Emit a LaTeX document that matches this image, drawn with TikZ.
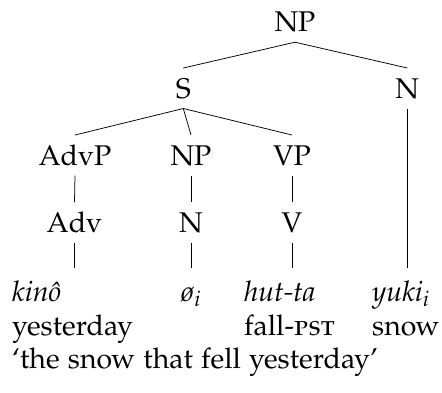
\documentclass[tikz,border=0pt]{standalone}
\usepackage[T1]{fontenc}
\usepackage[sc]{mathpazo}
\begin{document}
\begin{tikzpicture}[x=1pt,y=-1pt,
  every node/.append style={font=\fontsize{28.5pt}{34pt}\selectfont},
  cat/.style={anchor=base,inner sep=0pt,outer ysep=10.5pt,text height=19.5pt,text depth=0pt},
  gl/.style={anchor=base west,inner sep=0pt},
  edge/.style={line width=0.75pt}]
\useasboundingbox (0,0) rectangle (442,392);
% tree labels
\node[cat] (np0) at (295,31.7) {NP};
\node[cat] (s) at (183.3,98) {S};
\node[cat] (nr) at (407.3,98) {N};
\node[cat] (advp) at (75,165) {AdvP};
\node[cat] (np1) at (191,165) {NP};
\node[cat] (vp) at (292,165) {VP};
\node[cat] (adv) at (74.5,232) {Adv};
\node[cat] (n1) at (191,232) {N};
\node[cat] (v) at (292,232) {V};
% leaf ends
\coordinate (advl) at (74.5,268);
\coordinate (n1l) at (191,268);
\coordinate (vl) at (292,268);
\coordinate (nrl) at (407.3,268);
% edges
\draw[edge] (np0.south) -- (s.north);
\draw[edge] (np0.south) -- (nr.north);
\draw[edge] (s.south) -- (advp.north);
\draw[edge] (s.south) -- (np1.north);
\draw[edge] (s.south) -- (vp.north);
\draw[edge] (advp.south) -- (adv.north);
\draw[edge] (np1.south) -- (n1.north);
\draw[edge] (vp.south) -- (v.north);
\draw[edge] (adv.south) -- (advl);
\draw[edge] (n1.south) -- (n1l);
\draw[edge] (v.south) -- (vl);
\draw[edge] (nr.south) -- (nrl);
% gloss
\node[gl] (w1) at (12,301) {\textit{kin\^o}};
\node[gl] (w2) at (181,301) {\textit{\o}$_i$};
\node[gl] (w3) at (244,301) {\textit{hut-ta}};
\node[gl] (w4) at (372,301) {\textit{yuki}$_i$};
\node[gl] (g1) at (12,335) {yesterday};
\node[gl] (g3) at (244,335) {fall-\textsc{pst}};
\node[gl] (g4) at (372,335) {snow};
\node[gl] (tr) at (12,368) {`the snow that fell yesterday'};
\end{tikzpicture}
\end{document}
